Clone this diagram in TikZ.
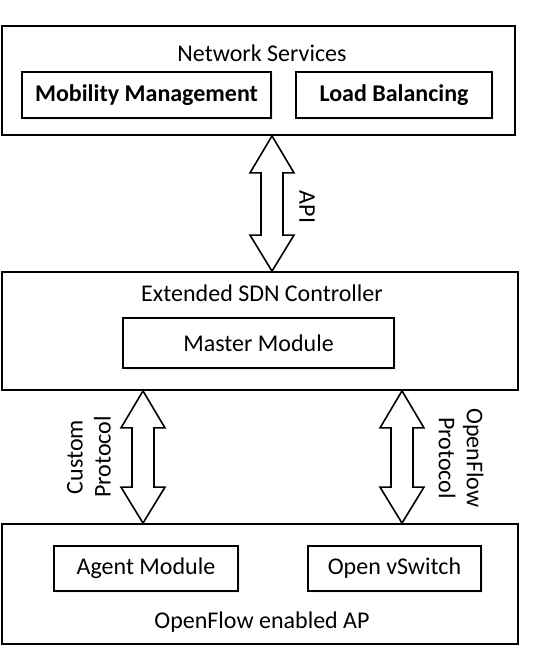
\documentclass[tikz,border=0pt]{standalone}
\usepackage{fontspec}
\setmainfont{Carlito}
\usetikzlibrary{calc,shadows}

\begin{document}
\begin{tikzpicture}[x=1pt,y=-1pt,
        lbl/.style={font=\fontsize{24}{28}\selectfont, inner sep=0pt},
        layer/.style={draw=black, line width=1.8pt, fill=white, inner sep=0pt},
        module/.style={draw=black, line width=1.6pt, fill=white, inner sep=0pt,
            drop shadow={opacity=0.12, shadow xshift=1.5pt, shadow yshift=-1.5pt},
            font=\fontsize{24}{28}\selectfont},
        fat/.style={draw=black, line width=1.6pt, fill=white, line join=miter}]
        \useasboundingbox (0,0) rectangle (547,654);
        \def\fatarrow#1#2{%
            \draw[fat] let \p1=(#1), \p2=(#2) in
                (\x1,\y1) -- (\x1+22pt,\y1-37pt) -- (\x1+11pt,\y1-37pt)
                -- (\x1+11pt,\y2+36pt) -- (\x1+22pt,\y2+36pt) -- (\x2,\y2)
                -- (\x1-22pt,\y2+36pt) -- (\x1-11pt,\y2+36pt)
                -- (\x1-11pt,\y1-37pt) -- (\x1-22pt,\y1-37pt) -- cycle;}

        % The three layers
        \node[layer, minimum width=513pt, minimum height=109pt] (ns) at (258.5,80.5) {};
        \node[layer, minimum width=516pt, minimum height=118pt] (sdn) at (260,331) {};
        \node[layer, minimum width=516pt, minimum height=120pt] (ap) at (260,584) {};

        % Layer titles and modules
        \node[lbl] (nstitle) at (262,53) {Network Services};
        \node[module, minimum width=249pt, minimum height=46pt] (mob) at (146.5,95) {\bfseries Mobility Management};
        \node[module, minimum width=196pt, minimum height=46pt] (lb) at (394,95) {\bfseries Load Balancing};
        \node[lbl] (sdntitle) at (262,293) {Extended SDN Controller};
        \node[module, minimum width=271pt, minimum height=50pt] (master) at (258.5,343) {Master Module};
        \node[module, minimum width=184pt, minimum height=45pt] (agent) at (146,568.5) {Agent Module};
        \node[module, minimum width=173pt, minimum height=45pt] (ovs) at (394.5,568.5) {Open vSwitch};
        \node[lbl] (aptitle) at (262,622) {OpenFlow enabled AP};

        % Interfaces between the layers
        \coordinate (apix) at (272,0);
        \coordinate (custx) at (143,0);
        \coordinate (ofx) at (402,0);
        \fatarrow{apix |- ns.south}{apix |- sdn.north}
        \fatarrow{custx |- sdn.south}{custx |- ap.north}
        \fatarrow{ofx |- sdn.south}{ofx |- ap.north}
        \node[lbl, rotate=-90] (api) at (307,207) {API};
        \node[lbl, rotate=90, align=center] (cust) at (89,457) {Custom\\Protocol};
        \node[lbl, rotate=-90, align=center] (of) at (461,458) {OpenFlow\\Protocol};
    \end{tikzpicture}
\end{document}
